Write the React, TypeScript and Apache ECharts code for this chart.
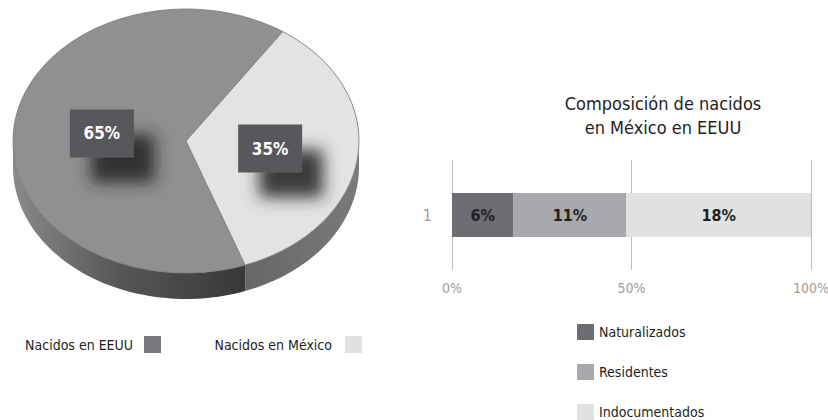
import React, { useEffect, useRef } from "react";
import * as echarts from "echarts";

const PIE_NAMES = ["Nacidos en EEUU", "Nacidos en México"];
const PIE_VALUES = [65, 35];
const PIE_COLORS = ["#909090", "#e3e3e4"];
const PIE_LEGEND_COLORS = ["#77787b", "#e1e2e3"];

const BAR_CATEGORIES = ["1"];
const BAR_NAMES = ["Naturalizados", "Residentes", "Indocumentados"];
const BAR_VALUES = [6, 11, 18];
const BAR_COLORS = ["#6d6e71", "#a7a9ac", "#e1e2e3"];
const X_TICKS = [0, 50, 100];

const FONT = '"Liberation Sans Narrow", "DejaVu Sans Condensed", "Roboto Condensed", "Noto Sans", sans-serif';

// pie geometry (style)
const CX = 186, CY = 141, RX = 173, RY = 132, DEPTH = 26;
const START = (-56 * Math.PI) / 180;

function sliceAngles(idx: number): [number, number] {
  const total = PIE_VALUES.reduce((a, b) => a + b, 0);
  let a = START;
  for (let i = PIE_VALUES.length - 1; i >= 0; i--) {
    const span = (PIE_VALUES[i] / total) * Math.PI * 2;
    if (i === idx) return [a, a + span];
    a += span;
  }
  return [0, 0];
}

function visibleRanges(a: number, b: number): [number, number][] {
  const out: [number, number][] = [];
  for (const off of [-2 * Math.PI, 0, 2 * Math.PI]) {
    const s = Math.max(a, off), e = Math.min(b, off + Math.PI);
    if (e > s) out.push([s, e]);
  }
  return out;
}

function makeRenderItem(idx: number) {
  return (params: any, api: any) => {
    const [a, b] = sliceAngles(idx);
    const children: any[] = [];
    visibleRanges(a, b).forEach(([s, e]) => {
      const pts: number[][] = [];
      const n = 60;
      for (let i = 0; i <= n; i++) {
        const t = s + ((e - s) * i) / n;
        pts.push([CX + RX * Math.cos(t), CY + RY * Math.sin(t)]);
      }
      for (let i = n; i >= 0; i--) {
        const t = s + ((e - s) * i) / n;
        pts.push([CX + RX * Math.cos(t), CY + RY * Math.sin(t) + DEPTH]);
      }
      const grad =
        idx === 0
          ? new echarts.graphic.LinearGradient(0, 0, 1, 0, [
              { offset: 0, color: "#8a8a8a" },
              { offset: 0.45, color: "#575757" },
              { offset: 1, color: "#383838" },
            ])
          : new echarts.graphic.LinearGradient(0, 0, 1, 0, [
              { offset: 0, color: "#666666" },
              { offset: 1, color: "#7a7a7a" },
            ]);
      children.push({ type: "polygon", shape: { points: pts }, style: { fill: grad }, z2: 1 });
    });
    children.push({
      type: "sector",
      x: CX,
      y: CY,
      scaleY: RY / RX,
      shape: { cx: 0, cy: 0, r0: 0, r: RX, startAngle: a, endAngle: b, clockwise: true },
      style: { fill: PIE_COLORS[idx], stroke: "#7c7c7c", lineWidth: 1, strokeNoScale: true },
      z2: 2,
    });
    const mid = (a + b) / 2;
    const lx = CX + 0.49 * RX * Math.cos(mid);
    const ly = CY + 0.47 * RY * Math.sin(mid);
    const w = 64, h = 48;
    children.push({
      type: "rect",
      shape: { x: lx - w / 2, y: ly - h / 2, width: w, height: h },
      style: {
        fill: "#58595b",
        shadowBlur: 16,
        shadowColor: "rgba(35,35,35,0.88)",
        shadowOffsetX: 21,
        shadowOffsetY: 25,
      },
      z2: 3,
    });
    children.push({
      type: "text",
      x: lx,
      y: ly,
      style: {
        text: api.value(0) + "%",
        fill: "#ffffff",
        fontSize: 17,
        fontWeight: "bold",
        fontFamily: FONT,
        align: "center",
        verticalAlign: "middle",
      },
      z2: 4,
    });
    return { type: "group", children };
  };
}

export default function App() {
  const ref = useRef<HTMLDivElement>(null);
  useEffect(() => {
    if (!ref.current) return;
    const chart = echarts.init(ref.current, undefined, { renderer: "svg" });
    const barTotal = BAR_VALUES.reduce((x, y) => x + y, 0);
    const pieSeries = PIE_NAMES.map((name, i) => ({
      type: "custom",
      name,
      coordinateSystem: "none",
      itemStyle: { color: PIE_LEGEND_COLORS[i] },
      data: [[PIE_VALUES[i]]],
      renderItem: makeRenderItem(i),
      silent: true,
    }));
    const barSeries = BAR_NAMES.map((name, i) => ({
      type: "bar",
      name,
      stack: "total",
      barWidth: 44,
      itemStyle: { color: BAR_COLORS[i] },
      label: {
        show: true,
        position: "inside",
        formatter: () => BAR_VALUES[i] + "%",
        color: "#231f20",
        fontSize: 16,
        fontWeight: "bold",
        fontFamily: FONT,
      },
      data: BAR_CATEGORIES.map(() => (BAR_VALUES[i] / barTotal) * 100),
    }));
    const legendText = { fontSize: 14, color: "#231f20", fontFamily: FONT };
    chart.setOption({
      animation: false,
      textStyle: { fontFamily: FONT },
      title: {
        text: "Composición de nacidos\nen México en EEUU",
        left: 658,
        top: 86,
        textAlign: "center",
        textStyle: { fontSize: 18, lineHeight: 24, fontWeight: "normal", color: "#231f20", fontFamily: FONT },
      },
      legend: [
        {
          data: [{ name: PIE_NAMES[0], itemStyle: { color: PIE_LEGEND_COLORS[0] } }],
          right: 828 - 161,
          top: 336,
          padding: 0,
          align: "right",
          icon: "rect",
          itemWidth: 17,
          itemHeight: 17,
          textStyle: { ...legendText, padding: [0, 6, 0, 0] },
          selectedMode: false,
        },
        {
          data: [{ name: PIE_NAMES[1], itemStyle: { color: PIE_LEGEND_COLORS[1] } }],
          right: 828 - 362,
          top: 336,
          padding: 0,
          align: "right",
          icon: "rect",
          itemWidth: 17,
          itemHeight: 17,
          textStyle: { ...legendText, padding: [0, 8, 0, 0] },
          selectedMode: false,
        },
        {
          data: BAR_NAMES,
          orient: "vertical",
          left: 577,
          top: 324,
          height: 140,
          padding: 0,
          icon: "rect",
          itemWidth: 17,
          itemHeight: 16,
          itemGap: 24,
          textStyle: legendText,
          selectedMode: false,
        },
      ],
      grid: { left: 452, right: 17, top: 160, bottom: 150, containLabel: false, outerBoundsMode: "none" },
      xAxis: {
        type: "value",
        min: 0,
        max: 100,
        interval: 50,
        axisLine: { show: false },
        axisTick: { show: false },
        splitLine: { lineStyle: { color: "#bcbcbc", width: 1 } },
        axisLabel: {
          formatter: (v: number) => (X_TICKS.includes(v) ? v + "%" : ""),
          color: "#9d9d9d",
          fontSize: 14,
          margin: 11,
          fontFamily: FONT,
        },
      },
      yAxis: {
        type: "category",
        data: BAR_CATEGORIES,
        axisLine: { show: false },
        axisTick: { show: false },
        axisLabel: { color: "#9d9d9d", fontSize: 16, margin: 20, fontFamily: FONT },
      },
      series: [...pieSeries, ...barSeries],
    });
    return () => chart.dispose();
  }, []);
  return <div ref={ref} style={{ position: "absolute", left: 0, top: 0, width: 828, height: 420 }} />;
}
